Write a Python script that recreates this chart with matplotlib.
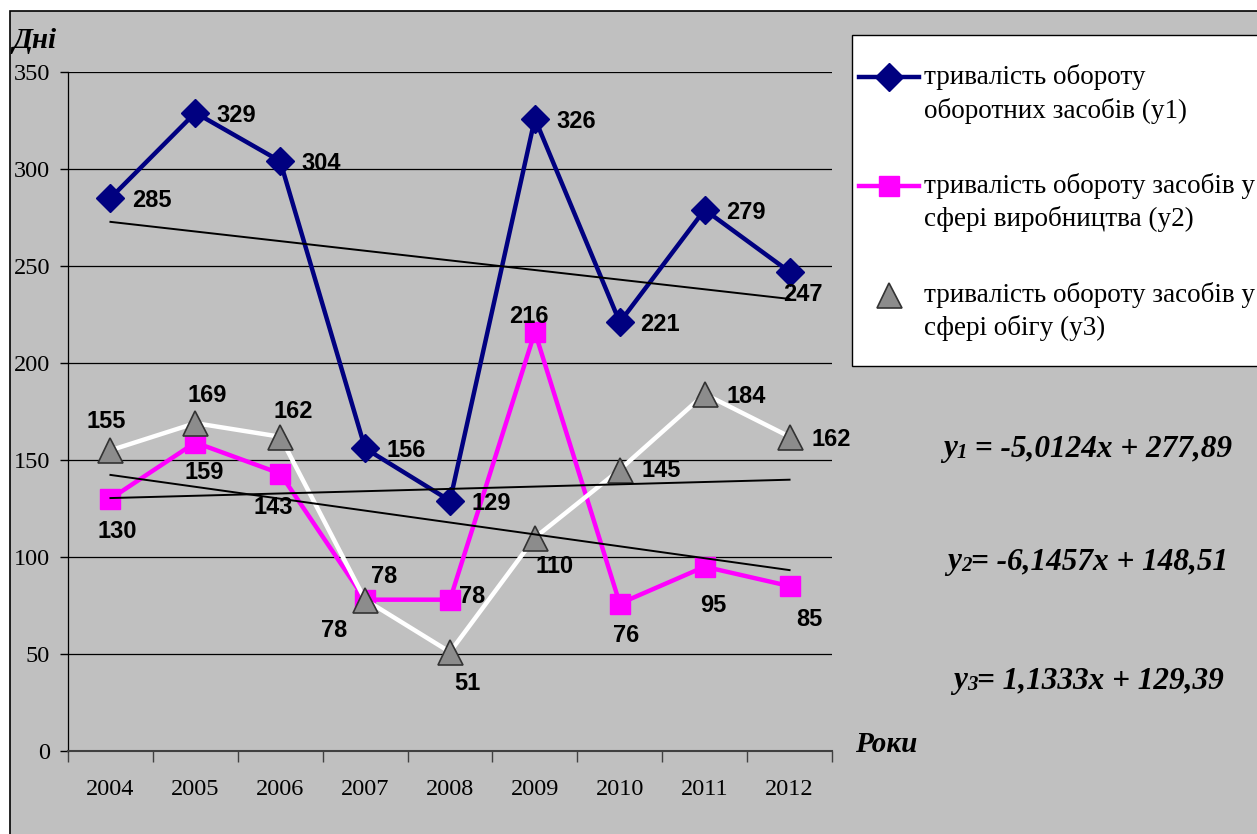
import numpy as np
import matplotlib
matplotlib.use("Agg")
import matplotlib.pyplot as plt
from matplotlib.patches import Rectangle
from matplotlib.text import Annotation
from matplotlib.lines import Line2D
from matplotlib.legend_handler import HandlerLine2D

# data
years = ["2004", "2005", "2006", "2007", "2008", "2009", "2010", "2011", "2012"]
y1 = [285, 329, 304, 156, 129, 326, 221, 279, 247]
y2 = [130, 159, 143, 78, 78, 216, 76, 95, 85]
y3 = [155, 169, 162, 78, 51, 110, 145, 184, 162]
legend_labels = [
    "тривалість обороту\nоборотних засобів (у1)",
    "тривалість обороту засобів у\nсфері виробництва (у2)",
    "тривалість обороту засобів у\nсфері обігу (у3)",
]
equations = [
    ("y", "1", " = -5,0124x + 277,89"),
    ("y", "2", "= -6,1457x + 148,51"),
    ("y", "3", "= 1,1333x + 129,39"),
]

# label offsets in pixels (where Excel put each data label)
off1 = [(41, 0), (41, 0), (41, 0), (41, 0), (41, 0), (41, 0), (40, 0), (41, 0), (13, -20)]
off2 = [(7, -30), (9, -27), (-7, -31), (-31, -28), (22, 6), (-6, 18), (6, -29), (9, -36), (20, -31)]
off3 = [(-4, 31), (12, 30), (13, 28), (19, 26), (17, -29), (20, -26), (41, 2), (42, 0), (42, 0)]

W, H = 1257, 834
SERIF = "Liberation Serif"
SANS = "Liberation Sans"


class FirstLineHandler(HandlerLine2D):
    # put the legend sample level with the first line of a two-line label
    def create_artists(self, legend, orig_handle, xdescent, ydescent, width, height,
                       fontsize, trans):
        return super().create_artists(legend, orig_handle, xdescent, ydescent - 24,
                                      width, height, fontsize, trans)


fig = plt.figure(figsize=(W / 100, H / 100), dpi=100)
fig.patch.set_facecolor("white")
fig.add_artist(Rectangle((10 / W, -0.1), 1.2, 1.1 - 11 / H, transform=fig.transFigure,
                         facecolor="#c0c0c0", edgecolor="black", linewidth=1.2, zorder=-2))

ax = fig.add_axes([68 / W, 1 - 751 / H, (832 - 68) / W, (751 - 72) / H])
ax.set_facecolor("none")

x = np.arange(len(years))
l1, = ax.plot(x, y1, color="#000080", lw=3.2, marker="D", ms=14, mec="#000080", zorder=3)
l2, = ax.plot(x, y2, color="#ff00ff", lw=3.2, marker="s", ms=14, mec="#ff00ff", zorder=4)
l3, = ax.plot(x, y3, color="white", lw=3.2, marker="^", ms=18, mfc="#8c8c8c", mec="#333333",
              mew=1.2, zorder=5)

# linear trend lines (x = 1..9 as in Excel)
for ys in (y1, y2, y3):
    k, b = np.polyfit(x + 1, ys, 1)
    ax.plot([x[0], x[-1]], [k * 1 + b, k * 9 + b], color="black", lw=1.4, zorder=6)

for ys, offs in ((y1, off1), (y2, off2), (y3, off3)):
    for i, v in enumerate(ys):
        ax.annotate(str(v), (x[i], v), xytext=offs[i], textcoords="offset pixels",
                    ha="center", va="center_baseline", fontsize=17, fontweight="bold",
                    family=SANS, zorder=7)

ax.set_xlim(-0.5, len(years) - 0.5)
ax.set_ylim(0, 350)
ax.set_yticks(range(0, 351, 50))
ax.set_xticks(x)
ax.set_xticklabels(years)
ax.set_xticks(np.arange(-0.5, len(years)), minor=True)
ax.tick_params(axis="x", which="major", length=0, pad=20, labelsize=17.5)
ax.tick_params(axis="x", which="minor", length=8, width=1, color="#404040")
ax.tick_params(axis="y", length=6, width=1, pad=7, labelsize=17.5)
for lab in ax.get_xticklabels() + ax.get_yticklabels():
    lab.set_family(SERIF)
ax.grid(axis="y", color="black", lw=0.9)
ax.set_axisbelow(True)
for s in ("top", "right"):
    ax.spines[s].set_visible(False)
ax.spines["left"].set_linewidth(0.9)
ax.spines["bottom"].set_color("#404040")
ax.spines["bottom"].set_linewidth(1.5)

fig.text(12 / W, 1 - 40 / H, "Дні", family=SERIF, fontsize=21, fontweight="bold",
         style="italic", va="center", ha="left")
fig.text(855 / W, 1 - 745 / H, "Роки", family=SERIF, fontsize=21, fontweight="bold",
         style="italic", va="center", ha="left")

# legend box (cut by the right edge)
fig.add_artist(Rectangle((852 / W, 1 - 366 / H), 0.5, (366 - 35) / H, transform=fig.transFigure,
                         facecolor="white", edgecolor="black", linewidth=1.0, zorder=1))
leg = fig.legend([l1, l2, l3], legend_labels, loc="upper left",
                 bbox_to_anchor=(859 / W, 1 - 64 / H), frameon=False,
                 prop={"family": SERIF, "size": 19.5}, handlelength=2.2, handletextpad=0.2,
                 labelspacing=1.82, borderpad=0, borderaxespad=0,
                 handler_map={Line2D: FirstLineHandler()})
leg.set_zorder(3)
for t in leg.get_texts():
    t.set_linespacing(1.38)

# trend equations
eq_pos = [(943, 445), (947, 558), (953, 677)]
for (base, sub, rest), (px, py) in zip(equations, eq_pos):
    t1 = fig.text(px / W, 1 - py / H, base, family=SERIF, fontsize=22.5, fontweight="bold",
                  style="italic", va="center_baseline", ha="left")
    a2 = fig.add_artist(Annotation(sub, xy=(1, 0), xycoords=t1, va="bottom", ha="left",
                                   family=SERIF, fontsize=15, style="italic", fontweight="bold"))
    fig.add_artist(Annotation(rest, xy=(1, 0), xycoords=a2, va="bottom", ha="left",
                              family=SERIF, fontsize=22.5, style="italic", fontweight="bold"))

fig.savefig("out.png", dpi=100, facecolor=fig.get_facecolor())
